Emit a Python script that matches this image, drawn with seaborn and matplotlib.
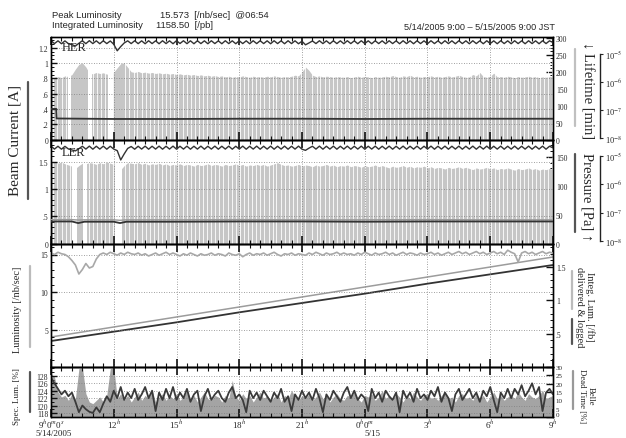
import numpy as np
import matplotlib
matplotlib.use("Agg")
import matplotlib.pyplot as plt
import seaborn as sns
from matplotlib.lines import Line2D
from matplotlib.ticker import FixedLocator, MultipleLocator, NullLocator

# ---------------- data ----------------
peak_lum = 15.573
peak_time = "06:54"
int_lum = 1158.50
date_range = "5/14/2005 9:00 \u2013 5/15/2005 9:00 JST"

hour_ticks = [0, 3, 6, 9, 12, 15, 18, 21, 24]
hour_labels = ['9$^{h}$0$^{m}$0$^{s}$', '12$^{h}$', '15$^{h}$', '18$^{h}$', '21$^{h}$',
               '0$^{h}$0$^{m}$', '3$^{h}$', '6$^{h}$', '9$^{h}$']

# HER beam current [mA], every 10 min
her_cur = [
 1292,1254,1290,1252,1289,1253,1240,1222,1258,1291,1253,1292,
 1254,1290,1252,1291,1254,1288,1245,1160,1215,1262,1290,1254,
 1291,1253,1290,1252,1291,1254,1290,1252,1291,1254,1290,1252,
 1292,1255,1291,1253,1290,1252,1291,1254,1290,1252,1291,1254,
 1290,1252,1291,1254,1290,1252,1291,1254,1290,1252,1291,1254,
 1291,1254,1290,1252,1291,1254,1290,1252,1291,1254,1290,1252,
 1285,1238,1262,1288,1254,1291,1254,1290,1252,1291,1254,1290,
 1252,1291,1254,1290,1252,1291,1254,1290,1252,1291,1254,1290,
 1252,1291,1254,1290,1252,1291,1254,1290,1252,1291,1254,1290,
 1252,1291,1254,1290,1252,1291,1254,1290,1252,1291,1254,1290,
 1252,1291,1254,1290,1252,1291,1254,1290,1252,1291,1254,1290,
 1252,1291,1254,1290,1252,1291,1254,1290,1252,1291,1254,1290,
 1268]
# LER beam current [mA], every 10 min
ler_cur = [
 1782,1728,1780,1726,1778,1730,1712,1695,1735,1780,1728,1782,
 1726,1780,1728,1782,1726,1780,1728,1700,1530,1640,1740,1775,
 1726,1780,1728,1782,1726,1780,1728,1782,1726,1780,1728,1782,
 1726,1780,1728,1782,1726,1780,1728,1782,1726,1780,1728,1782,
 1726,1780,1728,1782,1726,1780,1728,1782,1726,1780,1728,1782,
 1726,1780,1728,1782,1726,1780,1728,1782,1726,1780,1728,1782,
 1726,1705,1745,1780,1728,1782,1726,1780,1728,1782,1726,1780,
 1728,1782,1726,1780,1728,1782,1726,1780,1728,1782,1726,1780,
 1728,1782,1726,1780,1728,1782,1726,1780,1728,1782,1726,1780,
 1728,1782,1726,1780,1728,1782,1726,1780,1728,1782,1726,1780,
 1728,1782,1726,1780,1728,1782,1726,1780,1728,1782,1726,1780,
 1728,1782,1726,1780,1728,1782,1726,1780,1728,1782,1726,1780,
 1750]
# HER lifetime [min], every 10 min
her_life = [
 180,184,186,183,188,186,192,208,222,226,214,196,
 194,198,195,197,193,196,199,212,224,226,213,200,
 198,201,197,199,196,198,195,197,194,196,193,195,
 192,194,191,193,190,192,189,191,188,190,187,189,
 186,188,185,187,184,186,185,188,186,184,187,185,
 186,184,187,185,188,186,184,186,185,187,190,188,
 200,214,204,190,186,188,185,187,186,184,186,185,
 184,186,183,185,187,184,186,185,183,186,184,185,
 187,185,189,186,184,188,186,190,185,187,184,186,
 186,188,185,187,184,186,188,185,187,190,186,184,
 185,192,188,198,186,184,187,196,185,186,184,187,
 185,183,186,184,185,187,184,186,183,185,184,186,
 185]
# LER lifetime [min], every 10 min
ler_life = [
 140,142,139,141,138,136,134,130,135,139,138,140,
 139,137,140,138,141,139,137,132,128,135,140,139,
 138,140,137,139,136,138,137,139,136,138,135,137,
 136,138,135,137,136,134,137,135,136,138,135,137,
 136,134,137,135,136,138,135,137,134,136,135,137,
 135,137,134,136,138,140,137,135,136,134,135,137,
 134,136,135,133,136,134,135,137,134,136,133,135,
 134,136,133,135,134,132,135,133,134,136,133,135,
 133,131,134,132,133,135,132,134,131,133,132,134,
 131,133,130,132,131,129,132,130,131,133,130,132,
 130,128,131,129,130,132,129,131,128,130,129,131,
 129,127,130,128,129,131,128,130,127,129,128,130,
 128]
# injection times [h after 9:00] (lifetime data gaps)
inj_times = [0.10,0.31,0.52,0.70,0.93,1.80,2.02,2.20,2.41,2.60,2.78,2.98,3.55,3.74,3.95,
             4.13,4.35,4.52,4.73,4.92,5.10,5.31,5.50,5.71,5.90,6.08,6.30,6.49,6.70,6.88,
             7.07,7.28,7.46,7.66,7.85,8.05,8.24,8.45,8.63,8.84,9.02,9.22,9.41,9.62,9.80,
             10.01,10.20,10.40,10.60,10.78,10.98,11.17,11.38,11.56,11.76,11.95,12.15,12.50,
             12.70,12.88,13.08,13.27,13.47,13.66,13.86,14.05,14.24,14.44,14.63,14.83,15.02,
             15.21,15.41,15.60,15.80,15.99,16.19,16.38,16.58,16.77,16.96,17.16,17.35,17.55,
             17.74,17.94,18.13,18.32,18.52,18.71,18.91,19.10,19.30,19.49,19.68,19.88,20.07,
             20.27,20.46,20.66,20.85,21.04,21.24,21.43,21.63,21.82,22.02,22.21,22.40,22.60,
             22.79,22.99,23.18,23.38,23.57,23.76,23.95]
her_gap_start = [0.80, 1.78, 2.74]
her_gap_end = [0.98, 1.95, 2.96]
ler_gap_start = [1.00, 1.55, 3.05]
ler_gap_end = [1.25, 1.72, 3.40]

# vacuum pressure [Pa]
her_press_t = [0, 0.25, 0.27, 3, 6, 9, 12, 15, 18, 21, 24]
her_press = [1.1e-7, 1.1e-7, 5.0e-8, 4.8e-8, 4.8e-8, 4.9e-8, 4.9e-8, 4.8e-8, 4.9e-8, 4.9e-8, 4.9e-8]
ler_press_t = [0, 1.0, 1.3, 1.6, 3.0, 3.3, 3.6, 6, 9, 12, 15, 18, 21, 24]
ler_press_a = [4.9e-8, 4.9e-8, 4.3e-8, 4.8e-8, 4.8e-8, 4.3e-8, 4.8e-8, 4.8e-8, 4.9e-8, 4.9e-8, 4.8e-8, 4.9e-8, 4.9e-8, 4.9e-8]
ler_press_b = [5.7e-8, 5.7e-8, 5.5e-8, 5.6e-8, 5.6e-8, 5.4e-8, 5.6e-8, 5.6e-8, 5.7e-8, 5.6e-8, 5.6e-8, 5.7e-8, 5.6e-8, 5.6e-8]

# luminosity [/nb/sec], every 10 min
lum = [
 15.2,15.0,15.3,15.1,15.0,14.7,14.2,13.6,12.4,13.0,13.8,13.2,
 13.4,14.4,15.0,15.2,15.0,15.3,15.1,14.9,15.2,15.0,15.3,15.1,
 15.0,15.2,14.9,15.1,14.8,15.0,15.2,14.9,15.1,15.3,15.0,15.2,
 15.0,14.8,15.1,14.9,15.2,15.0,14.8,15.1,14.9,15.0,15.2,14.9,
 15.1,15.0,14.8,15.2,15.0,14.9,15.1,14.7,15.0,15.2,14.9,15.1,
 15.0,15.2,14.9,15.1,15.3,15.0,14.8,15.1,15.0,15.2,14.9,15.1,
 15.0,14.9,15.2,15.0,15.3,15.1,14.9,15.2,15.0,15.1,15.3,15.0,
 15.2,15.0,15.1,14.9,15.2,15.0,15.3,15.1,14.9,15.2,15.0,15.1,
 15.3,15.0,15.2,14.9,15.1,15.3,15.0,15.2,15.1,14.9,15.2,15.0,
 15.1,15.3,15.0,15.2,14.9,15.1,15.3,15.0,15.2,15.4,15.1,15.3,
 15.0,15.2,15.4,15.1,15.3,15.0,15.2,15.4,15.1,15.3,15.0,15.57,
 15.3,15.1,14.0,15.2,15.4,15.1,15.3,15.0,15.2,15.4,15.1,15.3,
 15.2]
# integrated luminosity [/fb], every 3 h
int_t = [0, 3, 6, 9, 12, 15, 18, 21, 24]
int_delivered = [0.45, 0.60, 0.75, 0.90, 1.05, 1.20, 1.35, 1.50, 1.65]
int_logged = [0.39, 0.53, 0.67, 0.82, 0.96, 1.10, 1.25, 1.39, 1.53]

# specific luminosity [%], every 10 min
spec_lum = [
 127.5,126.0,124.5,123.0,124.0,122.5,123.5,121.0,118.2,120.0,119.0,118.3,
 118.0,119.5,118.2,120.5,122.5,121.0,124.0,122.0,125.0,121.5,123.5,122.0,
 124.5,121.5,123.0,125.0,122.0,124.0,118.5,123.5,121.5,124.5,122.0,125.0,
 121.5,123.5,122.0,124.5,121.0,123.0,124.0,118.5,122.5,124.5,121.5,123.0,
 124.0,122.0,121.0,123.5,125.0,122.0,123.0,121.5,118.2,124.0,122.0,123.5,
 121.5,124.0,122.5,121.0,123.5,122.0,124.5,121.0,122.5,118.5,123.0,121.5,
 124.0,122.0,123.5,121.5,124.5,122.0,118.2,123.0,121.5,124.0,122.5,121.0,
 123.5,125.0,122.0,124.0,121.5,123.0,122.0,118.5,124.5,122.0,123.5,121.0,
 124.0,122.5,121.5,123.5,118.2,124.0,122.0,123.5,121.0,124.5,122.0,123.0,
 121.5,124.0,122.5,125.0,121.0,123.5,122.0,118.5,123.0,124.5,121.5,123.0,
 124.5,122.0,123.5,121.0,124.0,122.5,125.0,121.5,118.2,123.5,122.0,124.5,
 122.0,124.5,123.0,125.5,122.5,124.0,126.0,123.0,125.0,118.5,123.5,124.5,
 123.0]
# Belle dead time [%], every 10 min
dead_time = [
 26,24,15,12,13,10,14,11,29,30,14,9,
 8,10,12,9,13,29,30,11,14,10,13,9,
 12,15,10,13,11,16,9,12,14,10,13,11,
 14,10,12,16,11,13,9,12,15,11,10,13,
 12,9,13,11,22,12,10,14,11,13,9,12,
 15,11,13,10,12,14,9,13,11,16,12,10,
 13,11,14,10,12,15,11,13,9,12,14,11,
 10,13,12,15,11,9,13,12,14,10,12,16,
 11,13,10,14,12,9,13,11,15,12,10,13,
 14,11,12,10,13,15,11,12,9,13,14,11,
 12,10,14,11,13,9,12,15,11,13,10,12,
 13,11,15,12,10,14,12,11,13,16,11,12,
 13]

# ---------------- style ----------------
sns.set_theme(style="white")
plt.rcParams['font.family'] = ['Liberation Serif', 'DejaVu Serif']
plt.rcParams['mathtext.fontset'] = 'stix'
plt.rcParams['axes.linewidth'] = 1.0

DARK = '#333333'
LIGHT = '#c6c6c6'

W, H = 626, 439
fig = plt.figure(figsize=(W / 100, H / 100), dpi=100, facecolor='white')

def rect(top, bottom, left=51, right=553):
    return [left / W, 1 - bottom / H, (right - left) / W, (bottom - top) / H]

t10 = np.arange(len(her_cur)) / 6.0

def style_x(ax, labels=False):
    ax.set_xlim(0, 24)
    ax.xaxis.set_major_locator(FixedLocator(hour_ticks))
    ax.xaxis.set_minor_locator(MultipleLocator(0.5))
    ax.tick_params(axis='x', which='major', direction='in', top=True, bottom=True,
                   length=5.5, width=1.2, color='#111111', pad=0.5)
    ax.tick_params(axis='x', which='minor', direction='in', top=True, bottom=True,
                   length=2.8, width=0.8, color='#111111')
    if labels:
        ax.set_xticklabels(hour_labels, fontsize=6.5)
    else:
        ax.set_xticklabels([])
    ax.grid(True, which='major', axis='both', ls=(0, (1, 2)), color='#808080', lw=0.6)
    for s in ax.spines.values():
        s.set_color('black')
        s.set_linewidth(1.0)

def style_left(ax, lim, ticks, labels, minor):
    ax.set_ylim(*lim)
    ax.yaxis.set_major_locator(FixedLocator(ticks))
    ax.set_yticklabels(labels)
    ax.yaxis.set_minor_locator(MultipleLocator(minor))
    ax.tick_params(axis='y', which='major', direction='in', left=True, length=4.5, width=1.0,
                   labelsize=5.5, pad=2, color='#111111')
    ax.tick_params(axis='y', which='minor', direction='in', left=True, length=2.2, width=0.7,
                   color='#111111')

def style_right(ax2, lim, ticks, labels, minor=None):
    ax2.set_ylim(*lim)
    ax2.yaxis.set_major_locator(FixedLocator(ticks))
    ax2.set_yticklabels(labels)
    if minor:
        ax2.yaxis.set_minor_locator(MultipleLocator(minor))
    ax2.tick_params(axis='y', which='major', direction='in', right=True, length=5, width=1.0,
                    labelsize=5.5, pad=2, color='#111111')
    ax2.tick_params(axis='y', which='minor', direction='in', right=True, length=2.2, width=0.7,
                    color='#111111')
    ax2.grid(False)

def log_axis(ax, lo, hi):
    ax3 = ax.twinx()
    ax3.set_yscale('log')
    ax3.set_ylim(10 ** lo, 10 ** hi)
    ax3.spines['right'].set_position(('outward', 34))
    ax3.spines['right'].set_bounds(1e-8, 1e-5)
    ax3.spines['right'].set_color('#222222')
    for s in ['left', 'top', 'bottom']:
        ax3.spines[s].set_visible(False)
    ax3.yaxis.set_major_locator(FixedLocator([1e-8, 1e-7, 1e-6, 1e-5]))
    ax3.yaxis.set_minor_locator(NullLocator())
    ax3.set_yticklabels(['10$^{-8}$', '10$^{-7}$', '10$^{-6}$', '10$^{-5}$'])
    ax3.tick_params(axis='y', direction='out', length=2, width=0.8, labelsize=6, pad=1.5)
    ax3.grid(False)
    ax3.set_zorder(3)
    return ax3

# ---------------- panel 1 : HER ----------------
ax1 = fig.add_axes(rect(38, 141))
ax1b = ax1.twinx()
ax1b.set_zorder(1); ax1.set_zorder(2); ax1.patch.set_visible(False)
ax1b.fill_between(t10, 0, her_life, color=LIGHT, lw=0)
ax1b.vlines(inj_times, 0, 235, colors='white', lw=0.6)
for s, e in zip(her_gap_start, her_gap_end):
    ax1b.axvspan(s, e, ymax=0.78, color='white', lw=0)
sns.lineplot(x=t10, y=np.array(her_cur) / 1000, ax=ax1, color=DARK, lw=1.0, legend=False)
style_x(ax1)
style_left(ax1, (-0.005, 1.34), [0, .2, .4, .6, .8, 1, 1.2],
           ['0', '.2', '.4', '.6', '.8', '1', '1.2'], 0.05)
style_right(ax1b, (0, 302), [0, 50, 100, 150, 200, 250, 300],
            ['0', '50', '100', '150', '200', '250', '300'], 10)
ax1p = log_axis(ax1, -8.07, -4.39)
sns.lineplot(x=her_press_t, y=her_press, ax=ax1p, color=DARK, lw=1.3, legend=False)
ax1.set_xlabel(''); ax1.set_ylabel(''); ax1b.set_ylabel(''); ax1p.set_ylabel('')
ax1.text(0.022, 0.90, 'HER', transform=ax1.transAxes, fontsize=9, color='#222222',
         va='center', zorder=5)

# ---------------- panel 2 : LER ----------------
ax2 = fig.add_axes(rect(141, 245))
ax2b = ax2.twinx()
ax2b.set_zorder(1); ax2.set_zorder(2); ax2.patch.set_visible(False)
ax2b.fill_between(t10, 0, ler_life, color=LIGHT, lw=0)
ax2b.vlines(inj_times, 0, 150, colors='white', lw=0.6)
for s, e in zip(ler_gap_start, ler_gap_end):
    ax2b.axvspan(s, e, ymax=0.82, color='white', lw=0)
sns.lineplot(x=t10, y=np.array(ler_cur) / 1000, ax=ax2, color=DARK, lw=1.0, legend=False)
style_x(ax2)
style_left(ax2, (-0.005, 1.894), [0, .5, 1, 1.5], ['0', '.5', '1', '1.5'], 0.1)
style_right(ax2b, (0, 179), [0, 50, 100, 150], ['0', '50', '100', '150'], 10)
ax2p = log_axis(ax2, -8.106, -4.43)
sns.lineplot(x=ler_press_t, y=ler_press_b, ax=ax2p, color='#9a9a9a', lw=1.0, legend=False)
sns.lineplot(x=ler_press_t, y=ler_press_a, ax=ax2p, color=DARK, lw=1.3, legend=False)
ax2.set_xlabel(''); ax2.set_ylabel(''); ax2b.set_ylabel(''); ax2p.set_ylabel('')
ax2.text(0.022, 0.885, 'LER', transform=ax2.transAxes, fontsize=9, color='#222222',
         va='center', zorder=5)

# ---------------- panel 3 : luminosity ----------------
ax3 = fig.add_axes(rect(245, 368))
ax3b = ax3.twinx()
ax3b.set_zorder(1); ax3.set_zorder(2); ax3.patch.set_visible(False)
sns.lineplot(x=int_t, y=int_delivered, ax=ax3b, color='#9c9c9c', lw=1.1, legend=False)
sns.lineplot(x=int_t, y=int_logged, ax=ax3b, color=DARK, lw=1.3, legend=False)
sns.lineplot(x=t10, y=lum, ax=ax3, color='#a8a8a8', lw=1.2, legend=False)
style_x(ax3)
style_left(ax3, (0, 16.4), [5, 10, 15], ['5', '10', '15'], 1)
style_right(ax3b, (0, 1.845), [0.5, 1, 1.5], ['.5', '1', '1.5'], 0.1)
ax3.set_xlabel(''); ax3.set_ylabel(''); ax3b.set_ylabel('')

# ---------------- panel 4 : specific luminosity ----------------
ax4 = fig.add_axes(rect(368, 418))
ax4b = ax4.twinx()
ax4b.set_zorder(1); ax4.set_zorder(2); ax4.patch.set_visible(False)
ax4b.fill_between(t10, 0, dead_time, color='#a4a4a4', lw=0)
sns.lineplot(x=t10, y=spec_lum, ax=ax4, color='#3a3a3a', lw=1.3, legend=False)
style_x(ax4, labels=True)
style_left(ax4, (116.9, 130.4), [118, 120, 122, 124, 126, 128],
           ['118', '120', '122', '124', '126', '128'], 1)
style_right(ax4b, (0, 30), [0, 5, 10, 15, 20, 25, 30],
            ['0', '5', '10', '15', '20', '25', '30'])
ax4b.tick_params(axis='y', labelsize=5)
ax4b.get_yticklabels()[0].set_va('bottom')
ax4.set_xlabel(''); ax4.set_ylabel(''); ax4b.set_ylabel('')

# ---------------- texts ----------------
def ftext(x, y, s, **kw):
    fig.text(x / W, 1 - y / H, s, **kw)

def fbar(x, y0, y1, color, lw=1.6):
    fig.add_artist(Line2D([x / W, x / W], [1 - y0 / H, 1 - y1 / H], color=color, lw=lw,
                          transform=fig.transFigure))

sans = ['Liberation Sans', 'DejaVu Sans']
ftext(52, 16, 'Peak Luminosity', fontsize=6.8, family=sans, va='center')
ftext(160, 16, f'{peak_lum:.3f}  [/nb/sec]  @{peak_time}', fontsize=6.8, family=sans, va='center')
ftext(52, 26, 'Integrated Luminosity', fontsize=6.8, family=sans, va='center')
ftext(156, 26, f'{int_lum:.2f}  [/pb]', fontsize=6.8, family=sans, va='center')
ftext(555, 28, date_range, fontsize=6.6, family=sans, va='center', ha='right')

ftext(54, 438.5, '5/14/2005', fontsize=6.5, ha='center', va='bottom')
ftext(372, 438.5, '5/15', fontsize=6.5, ha='center', va='bottom')

ftext(15, 140, 'Beam Current [A]', fontsize=11, rotation=90, ha='center', va='center')
fbar(28, 83, 200, '#555555')
ftext(18, 310, 'Luminosity [/nb/sec]', fontsize=7.5, rotation=90, ha='center', va='center')
fbar(30, 267, 348, '#bbbbbb')
ftext(17, 397, 'Spec. Lum. [%]', fontsize=6.5, rotation=90, ha='center', va='center')
fbar(30, 373, 413, '#555555')

ftext(587, 91, '\u2193 Lifetime [min]', fontsize=10.5, rotation=270, ha='center', va='center')
fbar(575, 50, 127, '#c0c0c0')
ftext(587, 197, 'Pressure [Pa] \u2191', fontsize=10.5, rotation=270, ha='center', va='center')
fbar(575, 155, 233, '#555555')
ftext(585, 307, 'Integ. Lum. [/fb]\ndelivered & logged', fontsize=7.5, rotation=270,
      ha='center', va='center', linespacing=1.1)
fbar(572, 272, 310, '#bbbbbb')
fbar(572, 320, 345, '#555555')
ftext(586, 396, 'Belle\nDead Time [%]', fontsize=6.3, rotation=270, ha='center', va='center',
      linespacing=1.1, multialignment='center')
fbar(573, 372, 410, '#999999')

fig.savefig('out.png', dpi=100, facecolor='white')
